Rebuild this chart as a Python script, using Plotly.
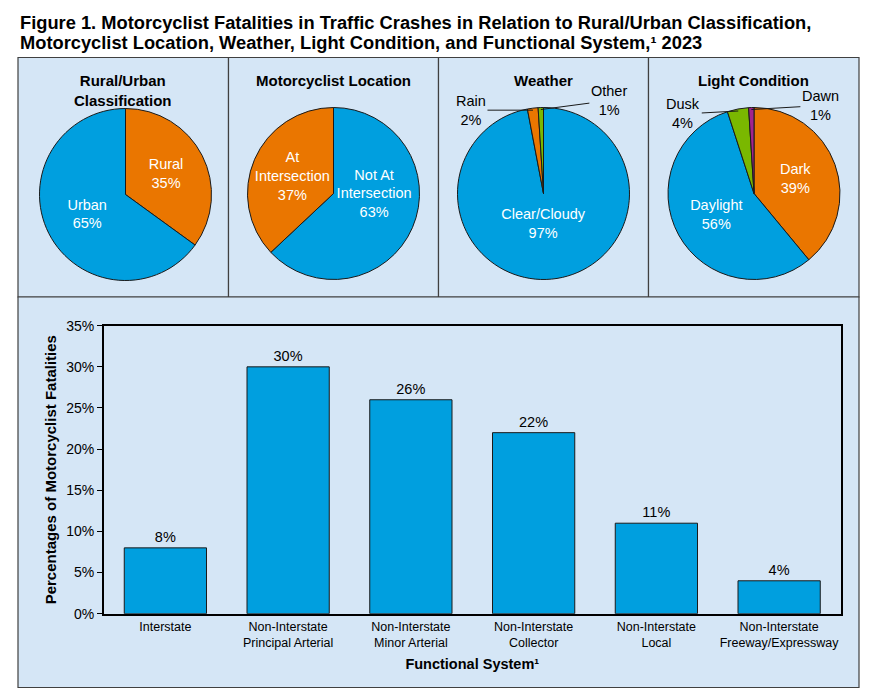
import math
import plotly.graph_objects as go

# the page body keeps an 8 px margin, so the figure is 16 px smaller than the window
OFF = 8
W, H = 876 - 2 * OFF, 696 - 2 * OFF
FONT = "Arial, Liberation Sans, sans-serif"
BLUE = "#009FDF"
ORANGE = "#EA7600"
GREEN = "#7AB800"
PURPLE = "#A3238E"
PANEL = "#D5E6F6"
CREAM = "#FFF4D9"

# ---- data ----
rural_labels = ["Rural", "Urban"]
rural_values = [35, 65]

location_labels = ["Not At<br>Intersection", "At<br>Intersection"]
location_values = [63, 37]

weather_labels = ["Clear/Cloudy", "Rain", "Other"]
weather_values = [97, 2, 1]

light_labels = ["Dark", "Daylight", "Dusk", "Dawn"]
light_values = [39, 56, 4, 1]

functional_systems = [
    "Interstate",
    "Non-Interstate<br>Principal Arterial",
    "Non-Interstate<br>Minor Arterial",
    "Non-Interstate<br>Collector",
    "Non-Interstate<br>Local",
    "Non-Interstate<br>Freeway/Expressway",
]
functional_values = [8, 30, 26, 22, 11, 4]
y_ticks = [0, 5, 10, 15, 20, 25, 30, 35]


def px(x):
    return (x - OFF) / W


def py(y):
    return 1 - (y - OFF) / H


def edge_point(values, i, cx, cy, r):
    # point on the rim at the middle of slice i (clockwise from 12 o'clock)
    mid = (sum(values[:i]) + values[i] / 2) / sum(values)
    a = 2 * math.pi * mid
    return cx + r * math.sin(a), cy - r * math.cos(a)


R = 86
pies = [
    dict(title="Rural/Urban<br>Classification", labels=rural_labels, values=rural_values,
         colors=[ORANGE, BLUE], cx=125.5, cy=194.5, panel=(18, 228.5), small={}),
    dict(title="Motorcyclist Location", labels=location_labels, values=location_values,
         colors=[BLUE, ORANGE], cx=333.5, cy=193.5, panel=(228.5, 438.5), small={}),
    dict(title="Weather", labels=weather_labels, values=weather_values,
         colors=[BLUE, ORANGE, GREEN], cx=543.5, cy=193.5, panel=(438.5, 648.5),
         small={1: (-62, 0), 2: (68, -9)}),
    dict(title="Light Condition", labels=light_labels, values=light_values,
         colors=[ORANGE, BLUE, GREEN, PURPLE], cx=754, cy=193.5, panel=(648.5, 859),
         small={2: (-55, 3), 3: (69, -4)}),
]

fig = go.Figure()
shapes = []
annotations = []

for p in pies:
    n = len(p["values"])
    texts = []
    positions = []
    for i in range(n):
        if i in p["small"]:
            texts.append(" ")
            positions.append("none")
        else:
            texts.append(f"{p['labels'][i]}<br>{p['values'][i]}%")
            positions.append("inside")
    fig.add_trace(go.Pie(
        labels=[l.replace("<br>", " ") for l in p["labels"]],
        values=p["values"],
        text=texts,
        textinfo="text",
        textposition=positions,
        insidetextorientation="horizontal",
        textfont=dict(size=14.5, color="white", family=FONT),
        marker=dict(colors=p["colors"], line=dict(color="#1a1a1a", width=1)),
        sort=False,
        direction="clockwise",
        rotation=0,
        showlegend=False,
        hoverinfo="label+percent",
        domain=dict(x=[px(p["cx"] - R), px(p["cx"] + R)],
                    y=[py(p["cy"] + R), py(p["cy"] - R)]),
    ))
    for i, (ax, ay) in p["small"].items():
        tx, ty = edge_point(p["values"], i, p["cx"], p["cy"], R - 2)
        annotations.append(dict(
            x=px(tx), y=py(ty), xref="paper", yref="paper",
            text=f"{p['labels'][i]}<br>{p['values'][i]}%",
            showarrow=True, arrowhead=0, arrowwidth=1, arrowcolor="#1a1a1a",
            ax=ax, ay=ay, font=dict(size=14.5, color="black", family=FONT),
        ))
    annotations.append(dict(
        x=px((p["panel"][0] + p["panel"][1]) / 2), y=py(70), xref="paper", yref="paper",
        text=f"<b>{p['title']}</b>", showarrow=False, xanchor="center", yanchor="top",
        font=dict(size=15, color="black", family=FONT),
    ))
    shapes.append(dict(type="rect", xref="paper", yref="paper", layer="below",
                       x0=px(p["panel"][0]), x1=px(p["panel"][1]), y0=py(297), y1=py(57.5),
                       fillcolor=PANEL, line=dict(color="#404040", width=1.2)))

shapes.append(dict(type="rect", xref="paper", yref="paper", layer="below",
                   x0=px(18), x1=px(859), y0=py(687.5), y1=py(297),
                   fillcolor=PANEL, line=dict(color="#404040", width=1.2)))

# two-line figure title
title_lines = [
    "Figure 1. Motorcyclist Fatalities in Traffic Crashes in Relation to Rural/Urban Classification,",
    "Motorcyclist Location, Weather, Light Condition, and Functional System,\u00b9 2023",
]
for k, line in enumerate(title_lines):
    annotations.append(dict(
        x=px(18), y=py(22 + 20.5 * k), xref="paper", yref="paper",
        xanchor="left", yanchor="middle", showarrow=False,
        text=f"<b>{line}</b>", font=dict(size=18.3, color="black", family=FONT),
    ))

fig.add_trace(go.Bar(
    x=functional_systems,
    y=functional_values,
    text=[f"{v}%" for v in functional_values],
    textposition="outside",
    textfont=dict(size=14, color="black", family=FONT),
    cliponaxis=False,
    marker=dict(color=BLUE, line=dict(color="#1a1a1a", width=1)),
    showlegend=False,
    hovertemplate="%{x}: %{y}%<extra></extra>",
))

fig.update_layout(
    width=W,
    height=H,
    margin=dict(l=0, r=0, t=0, b=0),
    paper_bgcolor="white",
    plot_bgcolor=CREAM,
    font=dict(family=FONT, color="black"),
    uniformtext=dict(minsize=14.5, mode="show"),
    bargap=0.33,
    xaxis=dict(
        domain=[px(104), px(840.5)],
        showline=True, linecolor="black", linewidth=2, mirror=True,
        ticks="", tickfont=dict(size=12.5),
        title=dict(text="<b>Functional System\u00b9</b>", font=dict(size=14.5), standoff=10),
        automargin=False,
    ),
    yaxis=dict(
        domain=[py(613.7), py(325.7)],
        range=[0, 35],
        tickvals=y_ticks,
        ticktext=[f"{t}%" for t in y_ticks],
        tickfont=dict(size=14),
        ticks="outside", ticklen=5, tickcolor="black",
        showline=True, linecolor="black", linewidth=2, mirror=True,
        showgrid=False, zeroline=False,
        title=dict(text="<b>Percentages of Motorcyclist Fatalities</b>", font=dict(size=15), standoff=6),
        automargin=False,
    ),
    shapes=shapes,
    annotations=annotations,
)

fig.write_html("out.html")
